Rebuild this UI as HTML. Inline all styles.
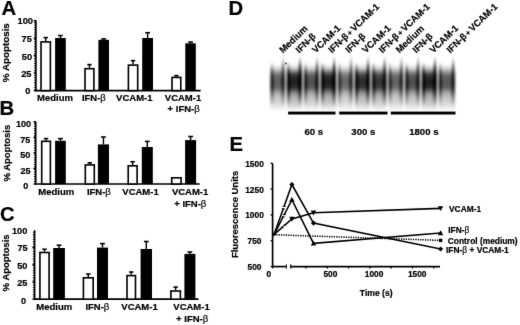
<!DOCTYPE html>
<html><head><meta charset="utf-8"><style>
html,body{margin:0;padding:0;background:#fff;}
svg{display:block;}
text{font-family:"Liberation Sans", sans-serif;fill:#000;stroke:#000;stroke-width:0.2px;}
</style></head><body>
<svg width="520" height="325" viewBox="0 0 520 325">
<defs><filter id="soft" x="0" y="0" width="100%" height="100%" color-interpolation-filters="sRGB"><feConvolveMatrix order="3" kernelMatrix="0.0052 0.0619 0.0052 0.0619 0.7314 0.0619 0.0052 0.0619 0.0052" divisor="1" edgeMode="duplicate"/></filter></defs>
<rect width="520" height="325" fill="#fff"/>
<g filter="url(#soft)">
<rect width="520" height="325" fill="#fff"/>
<text x="1.50" y="15.00" font-size="20.3" text-anchor="start" font-weight="bold" >A</text>
<line x1="35.90" y1="20.60" x2="35.90" y2="91.30" stroke="#000" stroke-width="1.68" />
<line x1="34.10" y1="20.60" x2="35.90" y2="20.60" stroke="#000" stroke-width="1.32" />
<line x1="34.70" y1="22.10" x2="34.70" y2="90.60" stroke="#000" stroke-width="1.1" stroke-dasharray="1.1 1.3"/>
<line x1="33.70" y1="20.60" x2="35.90" y2="20.60" stroke="#000" stroke-width="1.32" />
<line x1="33.70" y1="38.10" x2="35.90" y2="38.10" stroke="#000" stroke-width="1.32" />
<line x1="33.70" y1="55.60" x2="35.90" y2="55.60" stroke="#000" stroke-width="1.32" />
<line x1="33.70" y1="73.10" x2="35.90" y2="73.10" stroke="#000" stroke-width="1.32" />
<line x1="33.70" y1="90.60" x2="35.90" y2="90.60" stroke="#000" stroke-width="1.32" />
<line x1="35.20" y1="90.60" x2="200.70" y2="90.60" stroke="#000" stroke-width="1.68" />
<text transform="translate(33.00,24.40)" font-size="9.3" text-anchor="end" font-weight="bold" >100</text>
<text transform="translate(31.80,42.20)" font-size="9.3" text-anchor="end" font-weight="bold" >75</text>
<text transform="translate(32.20,59.50)" font-size="9.3" text-anchor="end" font-weight="bold" >50</text>
<text transform="translate(31.50,77.00)" font-size="9.3" text-anchor="end" font-weight="bold" >25</text>
<text transform="translate(30.30,94.00)" font-size="9.3" text-anchor="end" font-weight="bold" >0</text>
<line x1="45.70" y1="41.10" x2="45.70" y2="37.60" stroke="#000" stroke-width="1.44" />
<line x1="43.50" y1="37.60" x2="47.90" y2="37.60" stroke="#000" stroke-width="1.56" />
<line x1="60.45" y1="38.00" x2="60.45" y2="35.50" stroke="#000" stroke-width="1.44" />
<line x1="58.05" y1="35.50" x2="62.85" y2="35.50" stroke="#000" stroke-width="1.56" />
<rect x="41.01" y="41.91" width="9.38" height="48.69" fill="#fff" stroke="#000" stroke-width="1.62"/>
<rect x="55.10" y="38.00" width="10.70" height="52.60" fill="#000"/>
<line x1="89.45" y1="67.90" x2="89.45" y2="64.60" stroke="#000" stroke-width="1.44" />
<line x1="87.25" y1="64.60" x2="91.65" y2="64.60" stroke="#000" stroke-width="1.56" />
<line x1="103.70" y1="39.80" x2="103.70" y2="38.90" stroke="#000" stroke-width="1.44" />
<line x1="101.30" y1="38.90" x2="106.10" y2="38.90" stroke="#000" stroke-width="1.56" />
<rect x="85.01" y="68.71" width="8.88" height="21.89" fill="#fff" stroke="#000" stroke-width="1.62"/>
<rect x="98.40" y="39.80" width="10.60" height="50.80" fill="#000"/>
<line x1="133.05" y1="64.30" x2="133.05" y2="60.60" stroke="#000" stroke-width="1.44" />
<line x1="130.85" y1="60.60" x2="135.25" y2="60.60" stroke="#000" stroke-width="1.56" />
<line x1="147.60" y1="38.00" x2="147.60" y2="32.70" stroke="#000" stroke-width="1.44" />
<line x1="145.20" y1="32.70" x2="150.00" y2="32.70" stroke="#000" stroke-width="1.56" />
<rect x="128.41" y="65.11" width="9.28" height="25.49" fill="#fff" stroke="#000" stroke-width="1.62"/>
<rect x="142.20" y="38.00" width="10.80" height="52.60" fill="#000"/>
<line x1="176.40" y1="76.60" x2="176.40" y2="75.60" stroke="#000" stroke-width="1.44" />
<line x1="174.20" y1="75.60" x2="178.60" y2="75.60" stroke="#000" stroke-width="1.56" />
<line x1="190.55" y1="43.30" x2="190.55" y2="42.00" stroke="#000" stroke-width="1.44" />
<line x1="188.15" y1="42.00" x2="192.95" y2="42.00" stroke="#000" stroke-width="1.56" />
<rect x="172.01" y="77.41" width="8.78" height="13.19" fill="#fff" stroke="#000" stroke-width="1.62"/>
<rect x="185.30" y="43.30" width="10.50" height="47.30" fill="#000"/>
<text transform="translate(37.00,100.50)" font-size="9.5" text-anchor="start" font-weight="bold" >Medium</text>
<text transform="translate(81.90,100.50)" font-size="9.5" text-anchor="start" font-weight="bold" >IFN-<tspan font-family=""Liberation Serif", serif" font-weight="normal">&#946;</tspan></text>
<text transform="translate(116.10,100.50)" font-size="9.5" text-anchor="start" font-weight="bold" >VCAM-1</text>
<text transform="translate(164.80,100.50)" font-size="9.5" text-anchor="start" font-weight="bold" >VCAM-1</text>
<text transform="translate(167.60,112.30)" font-size="9.5" text-anchor="start" font-weight="bold" >+ IFN-<tspan font-family=""Liberation Serif", serif" font-weight="normal">&#946;</tspan></text>
<text transform="translate(9.20,82.20) rotate(-90)" font-size="9.6" font-weight="bold" textLength="59.0" lengthAdjust="spacingAndGlyphs"><tspan font-weight="normal" font-size="9.8" stroke-width="0.4">%</tspan> Apoptosis</text>
<text x="-0.50" y="114.90" font-size="20.3" text-anchor="start" font-weight="bold" >B</text>
<line x1="35.70" y1="121.80" x2="35.70" y2="184.70" stroke="#000" stroke-width="1.68" />
<line x1="33.90" y1="121.80" x2="35.70" y2="121.80" stroke="#000" stroke-width="1.32" />
<line x1="34.50" y1="123.30" x2="34.50" y2="184.00" stroke="#000" stroke-width="1.1" stroke-dasharray="1.1 1.3"/>
<line x1="33.50" y1="121.80" x2="35.70" y2="121.80" stroke="#000" stroke-width="1.32" />
<line x1="33.50" y1="137.35" x2="35.70" y2="137.35" stroke="#000" stroke-width="1.32" />
<line x1="33.50" y1="152.90" x2="35.70" y2="152.90" stroke="#000" stroke-width="1.32" />
<line x1="33.50" y1="168.45" x2="35.70" y2="168.45" stroke="#000" stroke-width="1.32" />
<line x1="33.50" y1="184.00" x2="35.70" y2="184.00" stroke="#000" stroke-width="1.32" />
<line x1="35.00" y1="184.00" x2="199.70" y2="184.00" stroke="#000" stroke-width="1.68" />
<text transform="translate(31.10,127.00)" font-size="9.1" text-anchor="end" font-weight="bold" >100</text>
<text transform="translate(30.30,142.90)" font-size="9.1" text-anchor="end" font-weight="bold" >75</text>
<text transform="translate(30.30,157.90)" font-size="9.1" text-anchor="end" font-weight="bold" >50</text>
<text transform="translate(30.50,174.00)" font-size="9.1" text-anchor="end" font-weight="bold" >25</text>
<text transform="translate(28.40,188.90)" font-size="9.1" text-anchor="end" font-weight="bold" >0</text>
<line x1="46.05" y1="140.50" x2="46.05" y2="138.60" stroke="#000" stroke-width="1.44" />
<line x1="43.85" y1="138.60" x2="48.25" y2="138.60" stroke="#000" stroke-width="1.56" />
<line x1="60.45" y1="140.80" x2="60.45" y2="138.60" stroke="#000" stroke-width="1.44" />
<line x1="58.05" y1="138.60" x2="62.85" y2="138.60" stroke="#000" stroke-width="1.56" />
<rect x="41.71" y="141.31" width="8.68" height="42.69" fill="#fff" stroke="#000" stroke-width="1.62"/>
<rect x="55.10" y="140.80" width="10.70" height="43.20" fill="#000"/>
<line x1="89.80" y1="164.10" x2="89.80" y2="162.80" stroke="#000" stroke-width="1.44" />
<line x1="87.60" y1="162.80" x2="92.00" y2="162.80" stroke="#000" stroke-width="1.56" />
<line x1="103.45" y1="144.40" x2="103.45" y2="137.00" stroke="#000" stroke-width="1.44" />
<line x1="101.05" y1="137.00" x2="105.85" y2="137.00" stroke="#000" stroke-width="1.56" />
<rect x="85.31" y="164.91" width="8.98" height="19.09" fill="#fff" stroke="#000" stroke-width="1.62"/>
<rect x="97.90" y="144.40" width="11.10" height="39.60" fill="#000"/>
<line x1="132.65" y1="165.00" x2="132.65" y2="161.70" stroke="#000" stroke-width="1.44" />
<line x1="130.45" y1="161.70" x2="134.85" y2="161.70" stroke="#000" stroke-width="1.56" />
<line x1="147.30" y1="147.00" x2="147.30" y2="141.40" stroke="#000" stroke-width="1.44" />
<line x1="144.90" y1="141.40" x2="149.70" y2="141.40" stroke="#000" stroke-width="1.56" />
<rect x="128.21" y="165.81" width="8.88" height="18.19" fill="#fff" stroke="#000" stroke-width="1.62"/>
<rect x="141.80" y="147.00" width="11.00" height="37.00" fill="#000"/>
<line x1="190.60" y1="140.10" x2="190.60" y2="136.50" stroke="#000" stroke-width="1.44" />
<line x1="188.20" y1="136.50" x2="193.00" y2="136.50" stroke="#000" stroke-width="1.56" />
<rect x="171.71" y="177.81" width="9.38" height="6.19" fill="#fff" stroke="#000" stroke-width="1.62"/>
<rect x="185.10" y="140.10" width="11.00" height="43.90" fill="#000"/>
<text transform="translate(38.30,194.90)" font-size="9.5" text-anchor="start" font-weight="bold" >Medium</text>
<text transform="translate(86.90,194.90)" font-size="9.5" text-anchor="start" font-weight="bold" >IFN-<tspan font-family=""Liberation Serif", serif" font-weight="normal">&#946;</tspan></text>
<text transform="translate(122.30,194.90)" font-size="9.5" text-anchor="start" font-weight="bold" >VCAM-1</text>
<text transform="translate(171.90,194.90)" font-size="9.5" text-anchor="start" font-weight="bold" >VCAM-1</text>
<text transform="translate(174.20,207.20)" font-size="9.5" text-anchor="start" font-weight="bold" >+ IFN-<tspan font-family=""Liberation Serif", serif" font-weight="normal">&#946;</tspan></text>
<text transform="translate(9.60,181.40) rotate(-90)" font-size="9.6" font-weight="bold" textLength="56.5" lengthAdjust="spacingAndGlyphs"><tspan font-weight="normal" font-size="9.8" stroke-width="0.4">%</tspan> Apoptosis</text>
<text x="-0.10" y="220.80" font-size="20.3" text-anchor="start" font-weight="bold" >C</text>
<line x1="34.60" y1="230.20" x2="34.60" y2="299.90" stroke="#000" stroke-width="1.68" />
<line x1="33.40" y1="231.70" x2="33.40" y2="299.20" stroke="#000" stroke-width="1.1" stroke-dasharray="1.1 1.3"/>
<line x1="32.40" y1="247.45" x2="34.60" y2="247.45" stroke="#000" stroke-width="1.32" />
<line x1="32.40" y1="264.70" x2="34.60" y2="264.70" stroke="#000" stroke-width="1.32" />
<line x1="32.40" y1="281.95" x2="34.60" y2="281.95" stroke="#000" stroke-width="1.32" />
<line x1="32.40" y1="299.20" x2="34.60" y2="299.20" stroke="#000" stroke-width="1.32" />
<line x1="33.90" y1="299.20" x2="198.50" y2="299.20" stroke="#000" stroke-width="1.68" />
<text transform="translate(27.30,233.50)" font-size="9.2" text-anchor="end" font-weight="bold" >100</text>
<text transform="translate(27.70,251.40)" font-size="9.2" text-anchor="end" font-weight="bold" >75</text>
<text transform="translate(27.40,268.50)" font-size="9.2" text-anchor="end" font-weight="bold" >50</text>
<text transform="translate(27.40,286.00)" font-size="9.2" text-anchor="end" font-weight="bold" >25</text>
<text transform="translate(26.10,303.50)" font-size="9.2" text-anchor="end" font-weight="bold" >0</text>
<line x1="44.50" y1="251.70" x2="44.50" y2="249.20" stroke="#000" stroke-width="1.44" />
<line x1="42.30" y1="249.20" x2="46.70" y2="249.20" stroke="#000" stroke-width="1.56" />
<line x1="59.05" y1="248.00" x2="59.05" y2="245.20" stroke="#000" stroke-width="1.44" />
<line x1="56.65" y1="245.20" x2="61.45" y2="245.20" stroke="#000" stroke-width="1.56" />
<rect x="39.91" y="252.51" width="9.18" height="46.69" fill="#fff" stroke="#000" stroke-width="1.62"/>
<rect x="53.20" y="248.00" width="11.70" height="51.20" fill="#000"/>
<line x1="88.30" y1="277.00" x2="88.30" y2="274.00" stroke="#000" stroke-width="1.44" />
<line x1="86.10" y1="274.00" x2="90.50" y2="274.00" stroke="#000" stroke-width="1.56" />
<line x1="102.50" y1="247.60" x2="102.50" y2="243.60" stroke="#000" stroke-width="1.44" />
<line x1="100.10" y1="243.60" x2="104.90" y2="243.60" stroke="#000" stroke-width="1.56" />
<rect x="83.41" y="277.81" width="9.78" height="21.39" fill="#fff" stroke="#000" stroke-width="1.62"/>
<rect x="97.00" y="247.60" width="11.00" height="51.60" fill="#000"/>
<line x1="131.25" y1="274.80" x2="131.25" y2="272.00" stroke="#000" stroke-width="1.44" />
<line x1="129.05" y1="272.00" x2="133.45" y2="272.00" stroke="#000" stroke-width="1.56" />
<line x1="146.30" y1="249.00" x2="146.30" y2="241.50" stroke="#000" stroke-width="1.44" />
<line x1="143.90" y1="241.50" x2="148.70" y2="241.50" stroke="#000" stroke-width="1.56" />
<rect x="127.01" y="275.61" width="8.48" height="23.59" fill="#fff" stroke="#000" stroke-width="1.62"/>
<rect x="140.60" y="249.00" width="11.40" height="50.20" fill="#000"/>
<line x1="175.65" y1="290.20" x2="175.65" y2="287.10" stroke="#000" stroke-width="1.44" />
<line x1="173.45" y1="287.10" x2="177.85" y2="287.10" stroke="#000" stroke-width="1.56" />
<line x1="189.90" y1="253.90" x2="189.90" y2="252.00" stroke="#000" stroke-width="1.44" />
<line x1="187.50" y1="252.00" x2="192.30" y2="252.00" stroke="#000" stroke-width="1.56" />
<rect x="170.91" y="291.01" width="9.48" height="8.19" fill="#fff" stroke="#000" stroke-width="1.62"/>
<rect x="184.40" y="253.90" width="11.00" height="45.30" fill="#000"/>
<text transform="translate(36.30,310.10)" font-size="9.5" text-anchor="start" font-weight="bold" >Medium</text>
<text transform="translate(85.40,310.10)" font-size="9.5" text-anchor="start" font-weight="bold" >IFN-<tspan font-family=""Liberation Serif", serif" font-weight="normal">&#946;</tspan></text>
<text transform="translate(121.30,310.40)" font-size="9.5" text-anchor="start" font-weight="bold" >VCAM-1</text>
<text transform="translate(173.30,310.40)" font-size="9.5" text-anchor="start" font-weight="bold" >VCAM-1</text>
<text transform="translate(176.10,322.10)" font-size="9.5" text-anchor="start" font-weight="bold" >+ IFN-<tspan font-family=""Liberation Serif", serif" font-weight="normal">&#946;</tspan></text>
<text transform="translate(8.90,291.40) rotate(-90)" font-size="9.6" font-weight="bold" textLength="57.0" lengthAdjust="spacingAndGlyphs"><tspan font-weight="normal" font-size="9.8" stroke-width="0.4">%</tspan> Apoptosis</text>
<text x="228.40" y="15.20" font-size="20.3" text-anchor="start" font-weight="bold" >D</text>
<defs>
<filter id="blur" x="-20%" y="-20%" width="140%" height="140%"><feGaussianBlur stdDeviation="0.8 1.4"/></filter>
<linearGradient id="lg" gradientUnits="userSpaceOnUse" x1="0" y1="56" x2="0" y2="112">
 <stop offset="0.14" stop-color="#000" stop-opacity="0"/>
 <stop offset="0.22" stop-color="#000" stop-opacity="0.2"/>
 <stop offset="0.28" stop-color="#000" stop-opacity="0.55"/>
 <stop offset="0.34" stop-color="#000" stop-opacity="0.85"/>
 <stop offset="0.45" stop-color="#000" stop-opacity="0.95"/>
 <stop offset="0.57" stop-color="#000" stop-opacity="0.88"/>
 <stop offset="0.64" stop-color="#000" stop-opacity="0.55"/>
 <stop offset="0.72" stop-color="#000" stop-opacity="0.35"/>
 <stop offset="0.80" stop-color="#000" stop-opacity="0.27"/>
 <stop offset="0.88" stop-color="#000" stop-opacity="0.18"/>
 <stop offset="0.94" stop-color="#000" stop-opacity="0.08"/>
 <stop offset="0.99" stop-color="#000" stop-opacity="0"/>
</linearGradient>
<linearGradient id="lge" gradientUnits="userSpaceOnUse" x1="0" y1="56" x2="0" y2="112">
 <stop offset="0.1" stop-color="#000" stop-opacity="0"/>
 <stop offset="0.2" stop-color="#000" stop-opacity="0.5"/>
 <stop offset="0.3" stop-color="#000" stop-opacity="0.9"/>
 <stop offset="0.5" stop-color="#000" stop-opacity="1"/>
 <stop offset="0.64" stop-color="#000" stop-opacity="0.7"/>
 <stop offset="0.78" stop-color="#000" stop-opacity="0.3"/>
 <stop offset="0.9" stop-color="#000" stop-opacity="0"/>
</linearGradient>
<linearGradient id="lgs" gradientUnits="userSpaceOnUse" x1="0" y1="56" x2="0" y2="112">
 <stop offset="0.0" stop-color="#000" stop-opacity="0"/>
 <stop offset="0.08" stop-color="#000" stop-opacity="0.4"/>
 <stop offset="0.2" stop-color="#000" stop-opacity="0.85"/>
 <stop offset="0.45" stop-color="#000" stop-opacity="1"/>
 <stop offset="0.64" stop-color="#000" stop-opacity="0.7"/>
 <stop offset="0.78" stop-color="#000" stop-opacity="0.3"/>
 <stop offset="0.9" stop-color="#000" stop-opacity="0"/>
</linearGradient>
</defs>
<g filter="url(#blur)">
<rect x="270.3" y="56" width="14.9" height="56" fill="url(#lg)" opacity="0.67"/>
<path d="M271.3,60 L272.5,60 L273.9,84 L273.5,106 L270.5,106 L270.3,84 Z" fill="url(#lge)" opacity="0.65"/>
<path d="M282.6,56 L283.8,56 L284.9,84 L284.7,106 L281.4,106 L281.0,84 Z" fill="url(#lgs)" opacity="0.68"/>
<rect x="286.8" y="56" width="15.4" height="56" fill="url(#lg)" opacity="0.93"/>
<path d="M287.8,60 L289.0,60 L290.4,84 L290.0,106 L287.0,106 L286.8,84 Z" fill="url(#lge)" opacity="0.90"/>
<path d="M299.6,56 L300.8,56 L301.9,84 L301.7,106 L298.4,106 L298.0,84 Z" fill="url(#lgs)" opacity="0.95"/>
<rect x="303.8" y="56" width="15.4" height="56" fill="url(#lg)" opacity="0.73"/>
<path d="M304.8,60 L306.0,60 L307.4,84 L307.0,106 L304.0,106 L303.8,84 Z" fill="url(#lge)" opacity="0.70"/>
<path d="M316.6,56 L317.8,56 L318.9,84 L318.7,106 L315.4,106 L315.0,84 Z" fill="url(#lgs)" opacity="0.74"/>
<rect x="320.8" y="56" width="15.4" height="56" fill="url(#lg)" opacity="0.93"/>
<path d="M321.8,60 L323.0,60 L324.4,84 L324.0,106 L321.0,106 L320.8,84 Z" fill="url(#lge)" opacity="0.90"/>
<path d="M333.6,56 L334.8,56 L335.9,84 L335.7,106 L332.4,106 L332.0,84 Z" fill="url(#lgs)" opacity="0.95"/>
<rect x="337.8" y="56" width="15.4" height="56" fill="url(#lg)" opacity="0.63"/>
<path d="M338.8,60 L340.0,60 L341.4,84 L341.0,106 L338.0,106 L337.8,84 Z" fill="url(#lge)" opacity="0.61"/>
<path d="M350.6,56 L351.8,56 L352.9,84 L352.7,106 L349.4,106 L349.0,84 Z" fill="url(#lgs)" opacity="0.65"/>
<rect x="354.8" y="56" width="15.4" height="56" fill="url(#lg)" opacity="0.88"/>
<path d="M355.8,60 L357.0,60 L358.4,84 L358.0,106 L355.0,106 L354.8,84 Z" fill="url(#lge)" opacity="0.85"/>
<path d="M367.6,56 L368.8,56 L369.9,84 L369.7,106 L366.4,106 L366.0,84 Z" fill="url(#lgs)" opacity="0.90"/>
<rect x="371.8" y="56" width="14.9" height="56" fill="url(#lg)" opacity="0.84"/>
<path d="M372.8,60 L374.0,60 L375.4,84 L375.0,106 L372.0,106 L371.8,84 Z" fill="url(#lge)" opacity="0.81"/>
<path d="M384.1,56 L385.3,56 L386.4,84 L386.2,106 L382.9,106 L382.5,84 Z" fill="url(#lgs)" opacity="0.85"/>
<rect x="388.3" y="56" width="15.2" height="56" fill="url(#lg)" opacity="0.65"/>
<path d="M389.3,60 L390.5,60 L391.9,84 L391.5,106 L388.5,106 L388.3,84 Z" fill="url(#lge)" opacity="0.63"/>
<path d="M400.9,56 L402.1,56 L403.2,84 L403.0,106 L399.7,106 L399.3,84 Z" fill="url(#lgs)" opacity="0.66"/>
<rect x="405.1" y="56" width="15.1" height="56" fill="url(#lg)" opacity="0.74"/>
<path d="M406.1,60 L407.3,60 L408.7,84 L408.3,106 L405.3,106 L405.1,84 Z" fill="url(#lge)" opacity="0.72"/>
<path d="M417.6,56 L418.8,56 L419.9,84 L419.7,106 L416.4,106 L416.0,84 Z" fill="url(#lgs)" opacity="0.76"/>
<rect x="421.8" y="56" width="15.2" height="56" fill="url(#lg)" opacity="0.93"/>
<path d="M422.8,60 L424.0,60 L425.4,84 L425.0,106 L422.0,106 L421.8,84 Z" fill="url(#lge)" opacity="0.90"/>
<path d="M434.4,56 L435.6,56 L436.7,84 L436.5,106 L433.2,106 L432.8,84 Z" fill="url(#lgs)" opacity="0.95"/>
<rect x="438.6" y="56" width="16.6" height="56" fill="url(#lg)" opacity="0.70"/>
<path d="M439.6,60 L440.8,60 L442.2,84 L441.8,106 L438.8,106 L438.6,84 Z" fill="url(#lge)" opacity="0.68"/>
<path d="M452.6,56 L453.8,56 L454.9,84 L454.7,106 L451.4,106 L451.0,84 Z" fill="url(#lgs)" opacity="0.71"/>
</g>
<circle cx="286" cy="63.5" r="0.9" fill="#333"/>
<rect x="288.10" y="111.60" width="47.40" height="2.90" fill="#000"/>
<rect x="339.20" y="111.60" width="48.30" height="2.90" fill="#000"/>
<rect x="390.80" y="111.60" width="64.70" height="2.90" fill="#000"/>
<text transform="translate(304.40,135.30)" font-size="9.6" text-anchor="start" font-weight="bold" >60 s</text>
<text transform="translate(351.30,135.30)" font-size="9.6" text-anchor="start" font-weight="bold" >300 s</text>
<text transform="translate(409.20,135.30)" font-size="9.6" text-anchor="start" font-weight="bold" >1800 s</text>
<text transform="translate(283.00,53.6) rotate(-44)" font-size="9.3" font-weight="bold">Medium</text>
<text transform="translate(299.30,53.6) rotate(-44)" font-size="9.3" font-weight="bold">IFN-&#946;</text>
<text transform="translate(315.70,53.6) rotate(-44)" font-size="9.3" font-weight="bold">VCAM-1</text>
<text transform="translate(332.00,53.6) rotate(-44)" font-size="9.3" font-weight="bold">IFN-&#946;<tspan dx="-0.9" font-size="7.6"> +</tspan><tspan dx="-1.0"> VCAM-1</tspan></text>
<text transform="translate(348.90,53.6) rotate(-44)" font-size="9.3" font-weight="bold">IFN-&#946;</text>
<text transform="translate(365.80,53.6) rotate(-44)" font-size="9.3" font-weight="bold">VCAM-1</text>
<text transform="translate(382.50,53.6) rotate(-44)" font-size="9.3" font-weight="bold">IFN-&#946;<tspan dx="-0.9" font-size="7.6"> +</tspan><tspan dx="-1.0"> VCAM-1</tspan></text>
<text transform="translate(399.40,53.6) rotate(-44)" font-size="9.3" font-weight="bold">Medium</text>
<text transform="translate(416.30,53.6) rotate(-44)" font-size="9.3" font-weight="bold">IFN-&#946;</text>
<text transform="translate(433.30,53.6) rotate(-44)" font-size="9.3" font-weight="bold">VCAM-1</text>
<text transform="translate(450.20,53.6) rotate(-44)" font-size="9.3" font-weight="bold">IFN-&#946;<tspan dx="-0.9" font-size="7.6"> +</tspan><tspan dx="-1.0"> VCAM-1</tspan></text>
<text x="229.40" y="150.90" font-size="20.3" text-anchor="start" font-weight="bold" >E</text>
<line x1="272.60" y1="163.30" x2="272.60" y2="266.60" stroke="#000" stroke-width="1.68" />
<line x1="270.60" y1="163.30" x2="272.60" y2="163.30" stroke="#000" stroke-width="1.32" />
<line x1="270.60" y1="189.12" x2="272.60" y2="189.12" stroke="#000" stroke-width="1.32" />
<line x1="270.60" y1="214.95" x2="272.60" y2="214.95" stroke="#000" stroke-width="1.32" />
<line x1="270.60" y1="240.78" x2="272.60" y2="240.78" stroke="#000" stroke-width="1.32" />
<line x1="270.60" y1="266.60" x2="272.60" y2="266.60" stroke="#000" stroke-width="1.32" />
<text transform="translate(254.50,166.80)" font-size="8.4" text-anchor="middle" font-weight="bold" >1500</text>
<text transform="translate(254.50,192.62)" font-size="8.4" text-anchor="middle" font-weight="bold" >1250</text>
<text transform="translate(254.50,218.45)" font-size="8.4" text-anchor="middle" font-weight="bold" >1000</text>
<text transform="translate(254.50,244.28)" font-size="8.4" text-anchor="middle" font-weight="bold" >750</text>
<text transform="translate(254.50,270.10)" font-size="8.4" text-anchor="middle" font-weight="bold" >500</text>
<text transform="translate(237.9,258.1) rotate(-90)" font-size="9.5" font-weight="bold" textLength="87.3" lengthAdjust="spacingAndGlyphs">Fluorescence Units</text>
<line x1="271.90" y1="266.60" x2="285.50" y2="266.60" stroke="#000" stroke-width="1.68" />
<line x1="291.20" y1="266.60" x2="440.00" y2="266.60" stroke="#000" stroke-width="1.68" />
<line x1="286.30" y1="264.60" x2="286.30" y2="268.60" stroke="#000" stroke-width="1.32" />
<line x1="290.80" y1="264.60" x2="290.80" y2="268.60" stroke="#000" stroke-width="1.32" />
<line x1="306.00" y1="266.60" x2="306.00" y2="268.40" stroke="#000" stroke-width="1.32" />
<line x1="327.30" y1="266.60" x2="327.30" y2="268.40" stroke="#000" stroke-width="1.32" />
<line x1="348.60" y1="266.60" x2="348.60" y2="268.40" stroke="#000" stroke-width="1.32" />
<line x1="369.90" y1="266.60" x2="369.90" y2="268.40" stroke="#000" stroke-width="1.32" />
<line x1="391.20" y1="266.60" x2="391.20" y2="268.40" stroke="#000" stroke-width="1.32" />
<line x1="412.50" y1="266.60" x2="412.50" y2="268.40" stroke="#000" stroke-width="1.32" />
<line x1="433.80" y1="266.60" x2="433.80" y2="268.40" stroke="#000" stroke-width="1.32" />
<line x1="272.60" y1="266.60" x2="272.60" y2="268.40" stroke="#000" stroke-width="1.32" />
<text transform="translate(268.80,276.80)" font-size="8.4" text-anchor="middle" font-weight="bold" >0</text>
<text transform="translate(330.40,277.40)" font-size="8.4" text-anchor="middle" font-weight="bold" >500</text>
<text transform="translate(374.10,277.40)" font-size="8.4" text-anchor="middle" font-weight="bold" >1000</text>
<text transform="translate(417.20,277.40)" font-size="8.4" text-anchor="middle" font-weight="bold" >1500</text>
<text transform="translate(359.80,295.50)" font-size="8.6" text-anchor="start" font-weight="bold" >Time (s)</text>
<path d="M274.20,234.30 L291.90,184.50 L313.50,223.10 L440.60,249.00" fill="none" stroke="#000" stroke-width="1.56" stroke-linejoin="miter"/>
<path d="M274.20,234.30 L291.90,199.70 L313.50,243.40 L440.60,233.00" fill="none" stroke="#000" stroke-width="1.56" stroke-linejoin="miter"/>
<path d="M274.20,234.30 L291.90,219.00 L313.50,212.70 L440.60,208.40" fill="none" stroke="#000" stroke-width="1.56" stroke-linejoin="miter"/>
<line x1="283.26" y1="208.80" x2="284.14" y2="206.35" stroke="#fff" stroke-width="2.8"/>
<line x1="281.86" y1="208.80" x2="284.66" y2="208.80" stroke="#000" stroke-width="1.2"/>
<line x1="282.74" y1="206.35" x2="285.54" y2="206.35" stroke="#000" stroke-width="1.2"/>
<line x1="283.11" y1="216.89" x2="284.29" y2="214.57" stroke="#fff" stroke-width="2.8"/>
<line x1="281.71" y1="216.89" x2="284.51" y2="216.89" stroke="#000" stroke-width="1.2"/>
<line x1="282.89" y1="214.57" x2="285.69" y2="214.57" stroke="#000" stroke-width="1.2"/>
<line x1="282.72" y1="226.94" x2="284.68" y2="225.24" stroke="#fff" stroke-width="2.8"/>
<line x1="281.32" y1="226.94" x2="284.12" y2="226.94" stroke="#000" stroke-width="1.2"/>
<line x1="283.28" y1="225.24" x2="286.08" y2="225.24" stroke="#000" stroke-width="1.2"/>
<line x1="276.20" y1="234.80" x2="440.60" y2="240.4" stroke="#000" stroke-width="1.56" stroke-dasharray="1.3 1.1"/>
<path d="M274.2,232.3 L276.2,234.3 L274.2,236.3 L272.2,234.3 Z" fill="#000"/>
<path d="M291.9,181.9 L294.5,184.5 L291.9,187.1 L289.29999999999995,184.5 Z" fill="#000"/>
<path d="M313.5,220.5 L316.1,223.1 L313.5,225.7 L310.9,223.1 Z" fill="#000"/>
<path d="M440.6,246.4 L443.20000000000005,249.0 L440.6,251.6 L438.0,249.0 Z" fill="#000"/>
<path d="M291.9,197.0 L294.59999999999997,201.85999999999999 L289.2,201.85999999999999 Z" fill="#000"/>
<path d="M313.5,240.70000000000002 L316.2,245.56 L310.8,245.56 Z" fill="#000"/>
<path d="M440.6,230.3 L443.3,235.16 L437.90000000000003,235.16 Z" fill="#000"/>
<path d="M291.9,221.7 L294.59999999999997,216.84 L289.2,216.84 Z" fill="#000"/>
<path d="M313.5,215.39999999999998 L316.2,210.54 L310.8,210.54 Z" fill="#000"/>
<path d="M440.6,211.1 L443.3,206.24 L437.90000000000003,206.24 Z" fill="#000"/>
<rect x="438.90000000000003" y="238.70000000000002" width="3.4" height="3.4" fill="#000"/>
<text transform="translate(449.00,211.50)" font-size="8.4" text-anchor="start" font-weight="bold" >VCAM-1</text>
<text transform="translate(448.20,232.90)" font-size="8.4" text-anchor="start" font-weight="bold" >IFN-<tspan font-family=""Liberation Serif", serif" font-weight="normal">&#946;</tspan></text>
<text transform="translate(447.80,243.90)" font-size="8.4" text-anchor="start" font-weight="bold" >Control (medium)</text>
<text transform="translate(446.00,253.10)" font-size="8.4" text-anchor="start" font-weight="bold" >IFN-<tspan font-family=""Liberation Serif", serif" font-weight="normal">&#946;</tspan> + VCAM-1</text>
</g>
</svg>
</body></html>
